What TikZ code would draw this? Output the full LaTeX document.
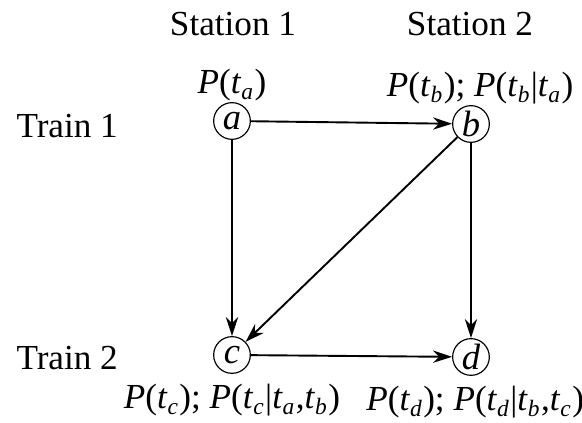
\documentclass[tikz,border=0pt]{standalone}
\usepackage{fontspec}
\setmainfont{Liberation Serif}
\usetikzlibrary{positioning, arrows.meta}
\newcommand{\tv}[1]{\textit{t}\textsubscript{\textit{#1}}}
\newcommand{\prob}[1]{\textit{P}(#1)}

\begin{document}
\begin{tikzpicture}[x=0.012cm, y=-0.012cm,
            event/.style={circle, draw, thin, minimum size=0.44cm, inner sep=0pt, font=\fontsize{12.5}{14}\selectfont\itshape},
            lbl/.style={inner sep=1pt, font=\fontsize{12}{14}\selectfont},
            hdr/.style={inner sep=1pt, font=\fontsize{12}{14}\selectfont},
            edge/.style={-{Stealth[length=6.5pt, width=4.2pt]}, line width=0.65pt}
        ]
            \useasboundingbox (0,0) rectangle (582,423);

            \node[hdr] (st1) at (233,24) {Station 1};
            \node[hdr] (st2) at (470,24) {Station 2};
            \node[hdr, anchor=west] (tr1) at (13,126) {Train 1};
            \node[hdr, anchor=west] (tr2) at (13,358) {Train 2};

            \node[event] (a) at (232,121) {a};
            \node[event] (b) at (471,124) {b};
            \node[event] (c) at (232,355) {c};
            \node[event] (d) at (471,357) {d};

            \node[lbl, above=-1pt of a] (pa) {\prob{\tv{a}}};
            \node[lbl, above=-1pt of b, xshift=0.11cm] (pb) {\prob{\tv{b}}; \prob{\tv{b}|\tv{a}}};
            \node[lbl, below=2.4pt of c] (pc) {\prob{\tv{c}}; \prob{\tv{c}|\tv{a},\tv{b}}};
            \node[lbl, below=2.4pt of d, xshift=0.05cm] (pd) {\prob{\tv{d}}; \prob{\tv{d}|\tv{b},\tv{c}}};

            \draw[edge] (a) -- (b);
            \draw[edge] (a) -- (c);
            \draw[edge] (b) -- (c);
            \draw[edge] (b) -- (d);
            \draw[edge] (c) -- (d);
        \end{tikzpicture}
\end{document}
